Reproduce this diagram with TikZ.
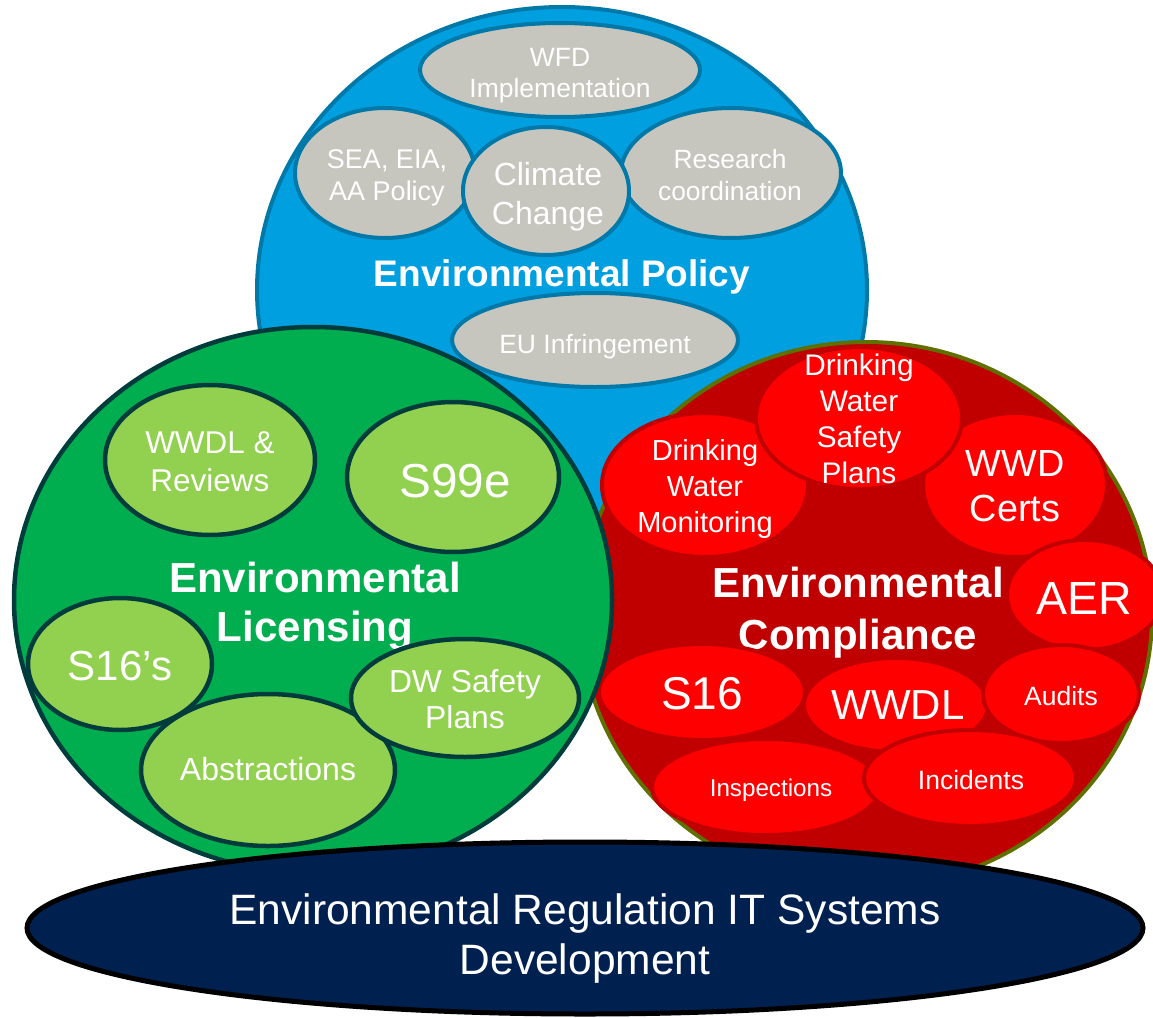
\documentclass[tikz,border=0pt]{standalone}
\usepackage{fontspec}
\setmainfont{Liberation Sans}
\usetikzlibrary{shapes.geometric}
\definecolor{polblue}{HTML}{009FDF}
\definecolor{poledge}{HTML}{0078A8}
\definecolor{grayell}{HTML}{C6C6BF}
\definecolor{licgreen}{HTML}{00AE50}
\definecolor{licedge}{HTML}{003C3C}
\definecolor{lightgreen}{HTML}{92D050}
\definecolor{compred}{HTML}{C00000}
\definecolor{compedge}{HTML}{5F6F00}
\definecolor{brightred}{HTML}{FF0000}
\definecolor{navyfill}{HTML}{002050}
\newcommand{\fsz}[2]{\fontsize{#1}{#2}\selectfont}
\tikzset{
  ell/.style={ellipse, inner sep=0pt},
  bigell/.style={ell, line width=4pt},
  polsub/.style={ell, draw=poledge, fill=grayell, line width=4pt},
  licsub/.style={ell, draw=licedge, fill=lightgreen, line width=4.5pt},
  compsub/.style={ell, draw=compred, fill=brightred, line width=4pt},
  lbl/.style={align=center, text=white, inner sep=0pt},
}
\begin{document}
\begin{tikzpicture}[x=1pt,y=-1pt]
\useasboundingbox (0,0) rectangle (1153,1017);
% ---------------- Environmental Policy circle
\node[bigell, draw=poledge, fill=polblue, minimum width=610pt, minimum height=566pt] (policy) at (562,290) {};
\node[lbl, font=\bfseries\fsz{37}{44}] (poltitle) at (562,277) {Environmental Policy};
% ---------------- Environmental Compliance circle
\node[bigell, draw=compedge, fill=compred, minimum width=572pt, minimum height=546pt] (compliance) at (866,615) {};
\node[lbl, font=\bfseries\fsz{42}{52}] (comptitle) at (858,613) {Environmental\\Compliance};
\node[compsub, minimum width=206pt, minimum height=144pt] (dwm) at (705,485) {};
\node[lbl, font=\fsz{29}{36}] (dwmtxt) at (705,488.5) {Drinking\\Water\\Monitoring};
\node[compsub, minimum width=184pt, minimum height=144pt] (wwdc) at (1015,485) {};
\node[lbl, font=\fsz{37.8}{45}] (wwdctxt) at (1015,486) {WWD\\Certs};
\node[compsub, minimum width=206pt, minimum height=142pt] (dwsp) at (859,418) {};
\node[lbl, font=\fsz{29.8}{36}] (dwsptxt) at (859,418.5) {Drinking\\Water\\Safety\\Plans};
\node[compsub, minimum width=156pt, minimum height=110pt] (aer) at (1085,595) {};
\node[lbl, font=\fsz{46.5}{52}] (aertxt) at (1084,598) {AER};
\node[compsub, minimum width=206pt, minimum height=96pt] (s16) at (702,692) {};
\node[lbl, font=\fsz{46}{52}] (s16txt) at (702,694) {S16};
\node[compsub, minimum width=184pt, minimum height=94pt] (wwdl) at (896,705) {};
\node[lbl, font=\fsz{42}{50}] (wwdltxt) at (898,705) {WWDL};
\node[compsub, minimum width=156pt, minimum height=98pt] (audits) at (1061,694) {};
\node[lbl, font=\fsz{26.5}{30}] (auditstxt) at (1061,696) {Audits};
\node[compsub, minimum width=228pt, minimum height=96pt] (insp) at (766,787) {};
\node[lbl, font=\fsz{24.2}{28}] (insptxt) at (771,790) {Inspections};
\node[compsub, minimum width=212pt, minimum height=96pt] (incid) at (970,778) {};
\node[lbl, font=\fsz{26.5}{30}] (incidtxt) at (971,780) {Incidents};
% ---------------- Environmental Licensing circle
\node[bigell, draw=licedge, fill=licgreen, line width=4.5pt, minimum width=598pt, minimum height=546pt] (licensing) at (313,600) {};
\node[lbl, font=\bfseries\fsz{42}{49}] (lictitle) at (315,606.5) {Environmental\\Licensing};
\node[licsub, minimum width=210pt, minimum height=150pt] (wwdlrev) at (210,460) {};
\node[lbl, font=\fsz{31.5}{38}] (wwdlrevtxt) at (210,461.5) {WWDL \&\\Reviews};
\node[licsub, minimum width=212pt, minimum height=150pt] (s99e) at (453,477) {};
\node[lbl, font=\fsz{47.7}{52}] (s99etxt) at (455,481) {S99e};
\node[licsub, minimum width=184pt, minimum height=132pt] (s16s) at (120,664) {};
\node[lbl, font=\fsz{42}{50}] (s16stxt) at (120,666) {S16’s};
\node[licsub, minimum width=254pt, minimum height=152pt] (abstr) at (268,770) {};
\node[lbl, font=\fsz{32}{38}] (abstrtxt) at (268,769) {Abstractions};
\node[licsub, minimum width=228pt, minimum height=118pt] (dwsafety) at (465,698) {};
\node[lbl, font=\fsz{31.8}{36}] (dwsafetytxt) at (465,699) {DW Safety\\Plans};
% ---------------- Policy sub-ellipses
\node[polsub, minimum width=280pt, minimum height=94pt] (wfd) at (560,70) {};
\node[lbl, font=\fsz{26.5}{31}] (wfdtxt) at (560,75.5) {WFD\\Implementation};
\node[polsub, minimum width=180pt, minimum height=130pt] (sea) at (385,173) {};
\node[lbl, font=\fsz{27}{32}] (seatxt) at (387,177.5) {SEA, EIA,\\AA Policy};
\node[polsub, minimum width=220pt, minimum height=130pt] (research) at (731,173) {};
\node[lbl, font=\fsz{26.4}{32}] (researchtxt) at (730,175.5) {Research\\coordination};
\node[polsub, minimum width=166pt, minimum height=128pt] (climate) at (546,191) {};
\node[lbl, font=\fsz{32}{39}] (climatetxt) at (548,196.5) {Climate\\Change};
\node[polsub, minimum width=286pt, minimum height=94pt] (euinf) at (595,340) {};
\node[lbl, font=\fsz{26.5}{31}] (euinftxt) at (595,347) {EU Infringement};
% ---------------- IT systems ellipse
\node[ell, draw=black, fill=navyfill, line width=5pt, minimum width=1116pt, minimum height=172pt] (itsys) at (585,928) {};
\node[lbl, font=\fsz{42.5}{50}] (itsystxt) at (585,938) {Environmental Regulation IT Systems\\Development};
\end{tikzpicture}
\end{document}
